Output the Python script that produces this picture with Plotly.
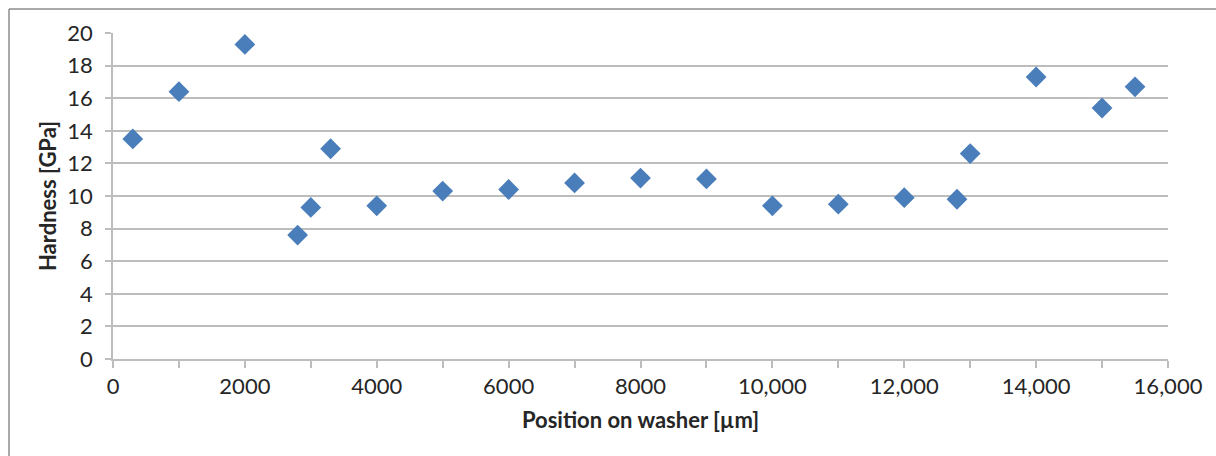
import plotly.graph_objects as go

position_um = [300, 1000, 2000, 2800, 3000, 3300, 4000, 5000, 6000, 7000, 8000, 9000,
               10000, 11000, 12000, 12800, 13000, 14000, 15000, 15500]
hardness_gpa = [13.5, 16.4, 19.3, 7.6, 9.3, 12.9, 9.4, 10.3, 10.4, 10.8, 11.1, 11.05,
                9.4, 9.5, 9.9, 9.8, 12.6, 17.3, 15.4, 16.7]

x_tick_vals = list(range(0, 16001, 1000))
x_tick_text = ["0", "", "2000", "", "4000", "", "6000", "", "8000", "",
               "10,000", "", "12,000", "", "14,000", "", "16,000"]
y_tick_vals = list(range(0, 21, 2))

FONT = "Lato, 'Open Sans', sans-serif"
GRID = "#bdbdbd"
BORDER = "#8c8c8c"

fig = go.Figure()
fig.add_trace(go.Scatter(
    x=position_um, y=hardness_gpa, mode="markers",
    marker=dict(symbol="diamond", size=16, color="#4A7EBB", line=dict(width=0)),
    showlegend=False, cliponaxis=False, hoverinfo="skip",
))

W, H = 1216, 456
L, T, R, B = 113, 33, 48, 97
pw, ph = W - L - R, H - T - B

x_left = (9 - L) / pw
y_top = (H - B - 9) / ph

fig.update_layout(
    width=W, height=H,
    margin=dict(l=L, r=R, t=T, b=B),
    paper_bgcolor="white", plot_bgcolor="white",
    font=dict(family=FONT, color="#262626", size=22),
    xaxis=dict(
        range=[0, 16000], tickvals=x_tick_vals, ticktext=x_tick_text,
        showgrid=False, zeroline=False,
        showline=True, linecolor=GRID, linewidth=1.5,
        ticks="outside", ticklen=7, tickcolor=GRID, tickwidth=1.5,
        tickfont=dict(size=22),
        title=dict(text="<b>Position on washer [µm]</b>", font=dict(size=22), standoff=14),
    ),
    yaxis=dict(
        range=[0, 20], tickvals=y_tick_vals,
        showgrid=True, gridcolor=GRID, gridwidth=1.5, zeroline=False,
        showline=True, linecolor=GRID, linewidth=1.5,
        ticks="outside", ticklen=6, tickcolor=GRID, tickwidth=1.5,
        tickfont=dict(size=22), ticklabelstandoff=8,
        title=dict(text="<b>Hardness [GPa]</b>", font=dict(size=22), standoff=5),
    ),
    shapes=[
        dict(type="line", xref="paper", yref="paper",
             x0=x_left, x1=(W - L) / pw, y0=y_top, y1=y_top,
             line=dict(color=BORDER, width=1.5), layer="below"),
        dict(type="line", xref="paper", yref="paper",
             x0=x_left, x1=x_left, y0=-B / ph, y1=y_top,
             line=dict(color=BORDER, width=1.5), layer="below"),
    ],
)

fig.write_html(
    "out.html",
    config={"displayModeBar": False},
    post_script="document.body.style.margin='0';document.body.style.overflow='hidden';",
)
